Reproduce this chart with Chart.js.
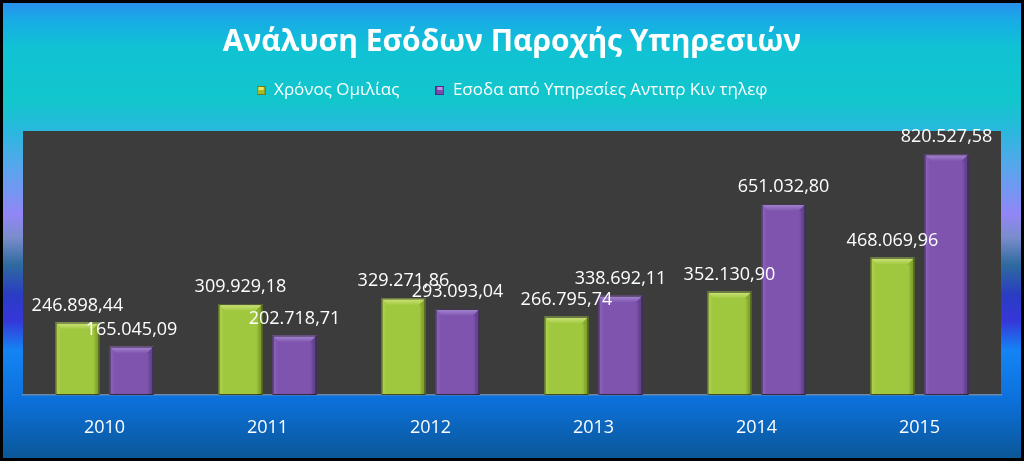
<!DOCTYPE html>
<html>
<head>
<meta charset="utf-8">
<script src="https://cdn.jsdelivr.net/npm/chart.js@4.4.1/dist/chart.umd.min.js"></script>
<style>
  html, body { margin: 0; padding: 0; background: #000; }
  canvas { display: block; }
</style>
</head>
<body>
<canvas id="c" width="1024" height="461"></canvas>
<script>
const categories = ['2010', '2011', '2012', '2013', '2014', '2015'];
const seriesNames = ['Χρόνος Ομιλίας', 'Εσοδα από Υπηρεσίες Αντιπρ Κιν τηλεφ'];
const callTime = [246898.44, 309929.18, 329271.86, 266795.74, 352130.90, 468069.96];
const serviceRevenue = [165045.09, 202718.71, 293093.04, 338692.11, 651032.80, 820527.58];
const chartTitle = 'Ανάλυση Εσόδων Παροχής Υπηρεσιών';
const yMin = 0;
const yMax = 900000;

const FONT = "'Open Sans', 'Noto Sans', 'DejaVu Sans', sans-serif";

function formatGreek(v) {
  const fixed = v.toFixed(2);
  const [intPart, dec] = fixed.split('.');
  const withSep = intPart.replace(/\B(?=(\d{3})+(?!\d))/g, '.');
  return withSep + ',' + dec;
}

const palette = [
  { base: '#a0c83e', light: '#cfe67e', dark: '#7d9e2c', edgeLight: '#b2d452' },
  { base: '#7e54ae', light: '#a88ad4', dark: '#5f3f88', edgeLight: '#8e66c0' }
];

const backgroundPlugin = {
  id: 'bg',
  beforeDraw(chart) {
    const { ctx, width, height, chartArea } = chart;
    ctx.save();
    const g = ctx.createLinearGradient(0, 0, 0, height);
    const stops = [
      [0.0, '#2c8cee'], [0.045, '#18ace6'], [0.10, '#10c2d4'], [0.22, '#12c6cc'],
      [0.285, '#2ab8de'], [0.37, '#5ca4ee'], [0.465, '#9286f6'], [0.515, '#7a8ccc'],
      [0.575, '#2e6a9e'], [0.64, '#2a3cc4'], [0.695, '#3636d8'], [0.76, '#1484f4'],
      [0.87, '#0c70da'], [1.0, '#0a5694']
    ];
    stops.forEach(s => g.addColorStop(s[0], s[1]));
    ctx.fillStyle = g;
    ctx.fillRect(0, 0, width, height);
    ctx.fillStyle = '#3c3c3c';
    ctx.fillRect(chartArea.left, chartArea.top, chartArea.right - chartArea.left, chartArea.bottom - chartArea.top);
    ctx.strokeStyle = '#000';
    ctx.lineWidth = 3;
    ctx.strokeRect(1.5, 1.5, width - 3, height - 3);
    ctx.restore();
  }
};

const bevelPlugin = {
  id: 'bevel',
  afterDatasetsDraw(chart) {
    const { ctx } = chart;
    ctx.save();
    chart.data.datasets.forEach((ds, di) => {
      const meta = chart.getDatasetMeta(di);
      const p = palette[di];
      meta.data.forEach((bar) => {
        const w = bar.width;
        const l = bar.x - w / 2, r = bar.x + w / 2, t = bar.y, b = bar.base;
        const h = b - t;
        const bv = Math.min(7, h / 2);
        const sg = ctx.createLinearGradient(l, 0, r, 0);
        sg.addColorStop(0, p.edgeLight);
        sg.addColorStop(0.12, p.base);
        sg.addColorStop(0.85, p.base);
        sg.addColorStop(1, p.dark);
        ctx.fillStyle = sg;
        ctx.fillRect(l, t, w, h);
        ctx.beginPath();
        ctx.moveTo(l, t);
        ctx.lineTo(r, t);
        ctx.lineTo(r - bv, t + bv);
        ctx.lineTo(l + bv, t + bv);
        ctx.closePath();
        const tg = ctx.createLinearGradient(0, t, 0, t + bv);
        tg.addColorStop(0, p.light);
        tg.addColorStop(1, p.base);
        ctx.fillStyle = tg;
        ctx.fill();
        ctx.beginPath();
        ctx.moveTo(r, t);
        ctx.lineTo(r, b);
        ctx.lineTo(r - 4, b);
        ctx.lineTo(r - 4, t + bv);
        ctx.lineTo(r - bv, t + bv);
        ctx.closePath();
        ctx.fillStyle = p.dark;
        ctx.globalAlpha = 0.55;
        ctx.fill();
        ctx.globalAlpha = 1;
        ctx.strokeStyle = 'rgba(20,20,20,0.7)';
        ctx.lineWidth = 1;
        ctx.strokeRect(l + 0.5, t + 0.5, w - 1, h - 1);
      });
    });
    ctx.restore();
  }
};

const labelPlugin = {
  id: 'valueLabels',
  afterDatasetsDraw(chart) {
    const { ctx } = chart;
    ctx.save();
    ctx.font = '18px ' + FONT;
    ctx.fillStyle = '#ffffff';
    ctx.textAlign = 'center';
    ctx.textBaseline = 'alphabetic';
    chart.data.datasets.forEach((ds, di) => {
      const meta = chart.getDatasetMeta(di);
      meta.data.forEach((bar, i) => {
        ctx.fillText(formatGreek(ds.data[i]), bar.x, bar.y - 12);
      });
    });
    ctx.restore();
  }
};

function legendMarker(di) {
  const c = document.createElement('canvas');
  c.width = 9; c.height = 9;
  const x = c.getContext('2d');
  const p = di === 0 ? { a: '#e2e85a', b: '#a8b82a', d: '#6f7e18' } : { a: '#b896e6', b: '#7a4cb0', d: '#4e2e80' };
  x.fillStyle = p.d; x.fillRect(0, 0, 9, 9);
  x.fillStyle = p.b; x.fillRect(1, 1, 7, 7);
  x.fillStyle = p.a; x.fillRect(2, 1, 5, 3);
  return c;
}

new Chart(document.getElementById('c'), {
  type: 'bar',
  data: {
    labels: categories,
    datasets: [
      { label: seriesNames[0], data: callTime, backgroundColor: palette[0].base, borderWidth: 0 },
      { label: seriesNames[1], data: serviceRevenue, backgroundColor: palette[1].base, borderWidth: 0 }
    ]
  },
  options: {
    responsive: false,
    animation: false,
    devicePixelRatio: 1,
    categoryPercentage: 0.663,
    barPercentage: 0.815,
    layout: { padding: { left: 23, right: 23, top: 0, bottom: 0 } },
    plugins: {
      title: {
        display: true,
        text: chartTitle,
        color: '#ffffff',
        font: { family: FONT, size: 30, weight: 'bold', lineHeight: 1.2 },
        padding: { top: 24, bottom: 8 }
      },
      legend: {
        display: true,
        position: 'top',
        labels: {
          color: '#ffffff',
          font: { family: FONT, size: 17 },
          padding: 14,
          usePointStyle: true,
          pointStyleWidth: 9,
          generateLabels(chart) {
            return chart.data.datasets.map((ds, i) => ({
              text: i === 0 ? ds.label + '     ' : ds.label,
              fillStyle: palette[i].base,
              strokeStyle: 'transparent',
              lineWidth: 0,
              pointStyle: legendMarker(i),
              hidden: false,
              datasetIndex: i,
              fontColor: '#ffffff'
            }));
          }
        }
      },
      tooltip: { enabled: false }
    },
    scales: {
      x: {
        position: 'bottom',
        grid: { display: false, drawTicks: false },
        border: { display: true, color: '#6a88aa', width: 1.5 },
        ticks: { color: '#ffffff', font: { family: FONT, size: 18 }, padding: 22 },
        afterFit(scale) { scale.height = 66; }
      },
      x2: {
        type: 'category',
        position: 'top',
        display: true,
        grid: { display: false, drawTicks: false },
        border: { display: false },
        ticks: { display: false },
        afterFit(scale) { scale.height = 22; }
      },
      y: {
        display: false,
        min: yMin,
        max: yMax
      }
    }
  },
  plugins: [backgroundPlugin, bevelPlugin, labelPlugin]
});
</script>
</body>
</html>
